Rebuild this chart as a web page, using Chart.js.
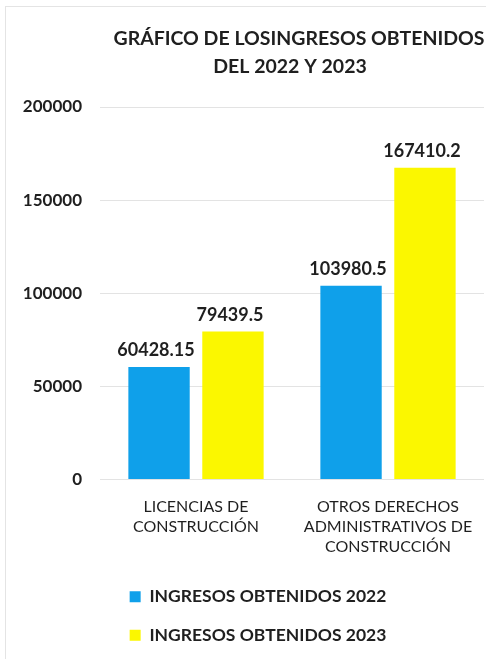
<!DOCTYPE html>
<html>
<head>
<meta charset="utf-8">
<script src="https://cdn.jsdelivr.net/npm/chart.js@4"></script>
<style>
  html, body { margin: 0; padding: 0; background: #fff; }
  #wrap { width: 486px; height: 659px; }
</style>
</head>
<body>
<div id="wrap"><canvas id="ingresosChart" width="486" height="659"></canvas></div>
<script>
const titleLines = ['GRÁFICO DE LOSINGRESOS OBTENIDOS', 'DEL 2022 Y 2023'];
const categories = [
    ['LICENCIAS DE', 'CONSTRUCCIÓN'],
    ['OTROS DERECHOS', 'ADMINISTRATIVOS DE', 'CONSTRUCCIÓN']
];
const seriesNames = ['INGRESOS OBTENIDOS 2022', 'INGRESOS OBTENIDOS 2023'];
const ingresos2022 = [60428.15, 103980.5];
const ingresos2023 = [79439.5, 167410.2];
const yTicks = [0, 50000, 100000, 150000, 200000];

const textColor = '#1f1f1f';
const fontFamily = 'Lato, "Open Sans", sans-serif';

// fondo blanco y marco gris claro del gráfico
const framePlugin = {
    id: 'frame',
    beforeDraw(chart) {
        const c = chart.ctx;
        c.save();
        c.fillStyle = '#fff';
        c.fillRect(0, 0, chart.width, chart.height);
        c.strokeStyle = '#e4e4e4';
        c.lineWidth = 1;
        c.strokeRect(5.5, 6.5, chart.width + 20, chart.height + 20);
        c.restore();
    }
};

// título en dos líneas
const titlePlugin = {
    id: 'twoLineTitle',
    afterDraw(chart) {
        const c = chart.ctx;
        c.save();
        c.fillStyle = textColor;
        c.font = 'bold 19.5px ' + fontFamily;
        c.textAlign = 'center';
        c.textBaseline = 'alphabetic';
        c.fillText(titleLines[0], 299, 45);
        c.fillText(titleLines[1], 290, 73);
        c.restore();
    }
};

// la leyenda va un poco a la derecha, como en el original
const legendShift = {
    id: 'legendShift',
    afterLayout(chart) {
        chart.legend.left += 16;
        chart.legend.right += 16;
    }
};

// valores encima de cada barra
const valueLabels = {
    id: 'valueLabels',
    afterDatasetsDraw(chart) {
        const c = chart.ctx;
        c.save();
        c.fillStyle = textColor;
        c.font = 'bold 18px ' + fontFamily;
        c.textAlign = 'center';
        c.textBaseline = 'alphabetic';
        chart.data.datasets.forEach((ds, i) => {
            chart.getDatasetMeta(i).data.forEach((bar, j) => {
                c.fillText(String(ds.data[j]), bar.x - 3, bar.y - 11);
            });
        });
        c.restore();
    }
};

new Chart(document.getElementById('ingresosChart'), {
    type: 'bar',
    data: {
        labels: categories,
        datasets: [
            {
                label: seriesNames[0],
                data: ingresos2022,
                backgroundColor: '#0fa0ea'
            },
            {
                label: seriesNames[1],
                data: ingresos2023,
                backgroundColor: '#fbf700'
            }
        ]
    },
    options: {
        responsive: false,
        animation: false,
        categoryPercentage: 0.77,
        barPercentage: 0.83,
        layout: {
            padding: { top: 107, left: 0, right: 2, bottom: 5 }
        },
        scales: {
            x: {
                afterFit(scale) { scale.height = 87.5; },
                grid: { display: false },
                border: { display: false },
                ticks: {
                    color: textColor,
                    padding: 9,
                    maxRotation: 0,
                    font: { family: fontFamily, size: 16, lineHeight: 1.25 }
                }
            },
            y: {
                min: 0,
                max: 200000,
                afterFit(scale) { scale.width = 100; },
                afterBuildTicks(scale) { scale.ticks = yTicks.map(v => ({ value: v })); },
                grid: { color: '#e3e3e3', drawTicks: false },
                border: { display: false },
                ticks: {
                    color: textColor,
                    padding: 18,
                    callback: v => String(v),
                    font: { family: fontFamily, size: 17, weight: 'bold' }
                }
            }
        },
        plugins: {
            title: { display: false },
            tooltip: { enabled: false },
            legend: {
                position: 'bottom',
                labels: {
                    color: textColor,
                    boxWidth: 11,
                    boxHeight: 11,
                    padding: 21,
                    font: { family: fontFamily, size: 17.5, weight: 'bold' }
                }
            }
        }
    },
    plugins: [framePlugin, titlePlugin, legendShift, valueLabels]
});
</script>
</body>
</html>
